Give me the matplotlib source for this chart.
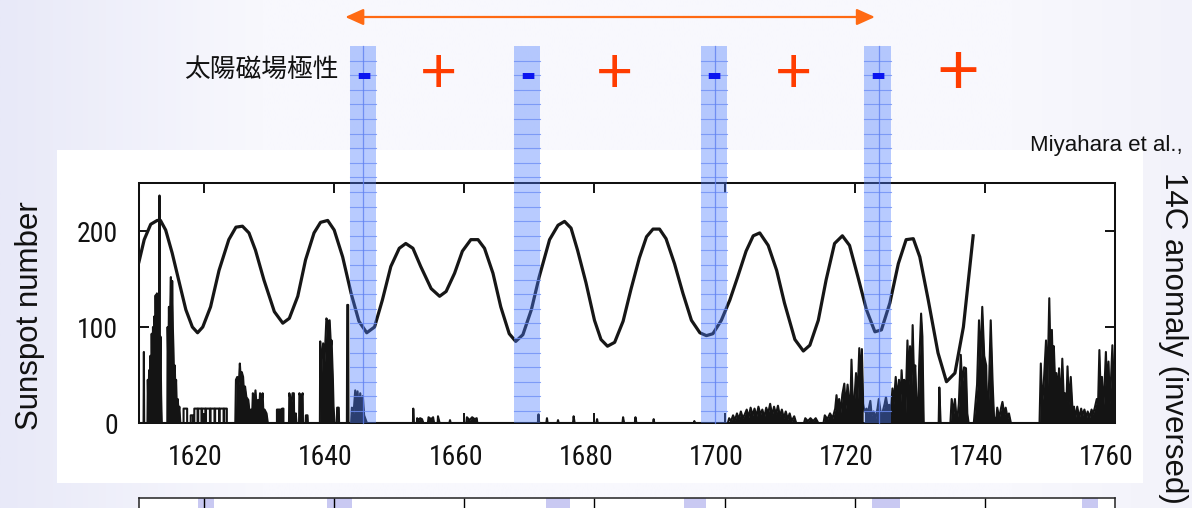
import numpy as np
import matplotlib
matplotlib.use("Agg")
import matplotlib.pyplot as plt
import matplotlib.transforms as mtransforms
from matplotlib.patches import Rectangle

# ---------------- data ----------------
c14_year = [1610.0, 1610.8, 1611.8, 1612.8, 1613.3, 1614.1, 1615.1, 1616.2, 1617.2, 1618.2,
            1619.0, 1619.8, 1621.0, 1622.3, 1623.8, 1624.9, 1625.9, 1626.9, 1627.9, 1629.2,
            1630.8, 1632.1, 1633.1, 1634.4, 1635.6, 1636.9, 1637.9, 1639.0, 1640.0, 1641.3,
            1642.6, 1643.8, 1645.0, 1646.2, 1647.4, 1648.7, 1650.0, 1651.0, 1652.1, 1653.3,
            1654.9, 1656.2, 1657.2, 1658.5, 1659.7, 1661.0, 1662.1, 1663.1, 1664.4, 1665.6,
            1666.9, 1667.9, 1669.0, 1670.3, 1671.5, 1673.1, 1674.4, 1675.4, 1676.4, 1677.4,
            1678.7, 1680.0, 1681.0, 1682.0, 1683.1, 1684.4, 1685.6, 1686.9, 1688.0, 1689.0,
            1690.0, 1691.0, 1692.3, 1693.6, 1694.9, 1696.2, 1697.2, 1698.2, 1699.5, 1700.8,
            1702.0, 1703.3, 1704.4, 1705.4, 1706.7, 1708.0, 1709.2, 1710.8, 1712.1, 1713.1,
            1714.4, 1715.6, 1716.9, 1718.1, 1719.2, 1720.5, 1721.8, 1723.1, 1724.1, 1725.4,
            1726.7, 1727.9, 1729.0, 1730.0, 1731.3, 1732.8, 1734.1, 1735.4, 1736.7, 1738.2]
c14_value = [168, 191, 207, 211, 211, 201, 177, 146, 118, 100,
             94, 100, 121, 159, 191, 204, 205, 198, 180, 149,
             116, 104, 109, 132, 170, 198, 209, 211, 201, 173,
             135, 106, 94, 100, 128, 163, 182, 187, 182, 163,
             140, 132, 137, 156, 179, 191, 191, 182, 156, 121,
             93, 85, 92, 118, 152, 191, 206, 210, 203, 180,
             146, 107, 87, 80, 84, 106, 139, 172, 194, 202,
             202, 192, 166, 135, 107, 94, 91, 93, 107, 128,
             152, 179, 195, 198, 185, 159, 125, 87, 75, 81,
             107, 149, 187, 195, 185, 152, 118, 95, 97, 125,
             166, 191, 192, 173, 128, 73, 43, 52, 100, 195]

# sunspot number, (year, value) vertices
sunspot_1610s = [(1610.0, 0), (1610.7, 0), (1610.75, 74), (1610.8, 0), (1611.3, 0), (1611.35, 45),
                 (1611.45, 10), (1611.55, 55), (1611.65, 20), (1611.75, 70), (1611.85, 40), (1611.95, 93),
                 (1612.05, 50), (1612.15, 100), (1612.25, 60), (1612.35, 111), (1612.45, 70), (1612.55, 133),
                 (1612.65, 80), (1612.75, 135), (1612.85, 70), (1612.95, 110), (1613.05, 60), (1613.15, 237),
                 (1613.22, 50), (1613.3, 90), (1613.4, 30), (1613.5, 0), (1614.35, 0), (1614.4, 100),
                 (1614.5, 60), (1614.6, 121), (1614.7, 70), (1614.8, 120), (1614.9, 152), (1615.0, 80),
                 (1615.1, 148), (1615.2, 100), (1615.3, 76), (1615.4, 40), (1615.5, 60), (1615.6, 30),
                 (1615.7, 45), (1615.8, 20), (1615.95, 25), (1616.1, 10), (1616.2, 17), (1616.35, 0)]
sunspot_comb = [(1616.85, 0), (1616.85, 15), (1617.4, 15), (1617.4, 0), (1617.95, 0), (1617.95, 8),
                (1618.3, 8), (1618.3, 0), (1618.5, 0), (1618.5, 15), (1619.0, 15), (1619.0, 0),
                (1619.1, 0), (1619.1, 15), (1619.6, 15), (1619.6, 0), (1619.7, 0), (1619.7, 15),
                (1620.2, 15), (1620.2, 0), (1620.3, 0), (1620.3, 15), (1620.9, 15), (1620.9, 0),
                (1621.0, 0), (1621.0, 15), (1621.6, 15), (1621.6, 0), (1621.7, 0), (1621.7, 15),
                (1622.3, 15), (1622.3, 0), (1622.4, 0), (1622.4, 15), (1623.0, 15), (1623.0, 0),
                (1623.1, 0), (1623.1, 15), (1623.5, 15), (1623.5, 0)]
sunspot_1620s = [(1624.8, 0), (1624.9, 45),
                 (1625.1, 48), (1625.3, 35), (1625.5, 62), (1625.65, 45), (1625.8, 53), (1626.0, 48),
                 (1626.15, 30), (1626.3, 38), (1626.5, 27), (1626.8, 24), (1627.0, 10), (1627.2, 14),
                 (1627.35, 0), (1627.5, 31), (1627.7, 20), (1627.9, 34), (1628.1, 15), (1628.3, 24),
                 (1628.45, 10), (1628.6, 31), (1628.8, 20), (1629.0, 31), (1629.15, 5), (1629.3, 14),
                 (1629.6, 10), (1629.8, 0)]
sunspot_1630s = [(1631.2, 0), (1631.2, 14), (1631.8, 14), (1631.8, 0), (1632.0, 0), (1632.0, 15),
                 (1632.2, 15), (1632.2, 0), (1633.05, 0), (1633.1, 31), (1633.4, 20), (1633.6, 31),
                 (1633.8, 31), (1633.85, 0), (1634.05, 0), (1634.1, 10), (1634.2, 0), (1634.6, 0),
                 (1634.65, 31), (1634.9, 25), (1635.15, 31), (1635.2, 0), (1635.6, 0), (1635.65, 8),
                 (1635.9, 8), (1635.95, 0), (1637.8, 0), (1637.85, 85), (1638.0, 40), (1638.1, 66),
                 (1638.3, 83), (1638.5, 62), (1638.8, 109), (1639.0, 106), (1639.3, 107), (1639.5, 80),
                 (1639.6, 86), (1639.8, 45), (1639.9, 17), (1640.05, 0)]
sunspot_1640s = [(1640.4, 0), (1640.45, 16), (1640.7, 16), (1640.75, 0), (1641.95, 0), (1642.0, 123),
                 (1642.15, 123), (1642.2, 0), (1642.6, 0), (1642.72, 16), (1642.98, 10), (1643.23, 34),
                 (1643.38, 15), (1643.59, 33), (1643.8, 10), (1644.0, 31), (1644.2, 15), (1644.4, 28),
                 (1644.6, 8), (1644.82, 4), (1645.03, 0)]
sunspot_maunder = [(1652.1, 0), (1652.15, 15), (1652.25, 0), (1652.7, 0), (1652.75, 5), (1653.0, 3),
                   (1653.2, 5), (1653.5, 4), (1653.7, 0), (1654.4, 0), (1654.5, 6), (1654.9, 4),
                   (1655.2, 6), (1655.35, 0), (1655.9, 0), (1655.95, 7), (1656.2, 0), (1657.7, 0),
                   (1657.8, 3), (1657.9, 0), (1660.3, 0), (1660.4, 6), (1660.8, 3), (1661.2, 6),
                   (1661.6, 4), (1661.9, 5), (1662.0, 0), (1671.3, 0), (1671.4, 9), (1671.5, 0),
                   (1672.6, 0), (1672.7, 5), (1672.8, 0), (1674.3, 0), (1674.4, 3), (1674.5, 0),
                   (1676.7, 0), (1676.8, 7), (1676.95, 0), (1680.3, 0), (1680.4, 4), (1680.5, 0),
                   (1684.3, 0), (1684.4, 6), (1684.55, 0), (1686.2, 0), (1686.3, 6), (1686.45, 0),
                   (1689.0, 0), (1689.1, 4), (1689.2, 0), (1695.3, 0), (1695.35, 2), (1695.4, 0),
                   (1700.5, 0)]
sunspot_1700s = [(1700.7, 5), (1701.0, 2), (1701.3, 8), (1701.6, 3), (1701.9, 10), (1702.2, 4),
                 (1702.5, 12), (1702.8, 5), (1703.1, 9), (1703.4, 14), (1703.7, 6), (1704.0, 16),
                 (1704.3, 8), (1704.6, 15), (1704.9, 7), (1705.2, 17), (1705.5, 9), (1705.8, 14),
                 (1706.1, 6), (1706.4, 16), (1706.7, 10), (1707.0, 20), (1707.3, 8), (1707.6, 17),
                 (1707.9, 9), (1708.2, 18), (1708.5, 7), (1708.8, 14), (1709.1, 5), (1709.4, 12),
                 (1709.7, 4), (1710.0, 10), (1710.3, 2), (1710.7, 7), (1711.0, 0), (1712.2, 0),
                 (1712.4, 5), (1712.8, 2), (1713.2, 5), (1713.6, 2), (1714.0, 5), (1714.4, 0),
                 (1715.2, 0), (1715.4, 8), (1715.8, 4), (1716.2, 10), (1716.6, 5), (1717.0, 15),
                 (1717.2, 29), (1717.4, 12), (1717.6, 25), (1717.8, 10), (1718.1, 30), (1718.4, 41),
                 (1718.6, 15), (1718.9, 40), (1719.1, 25), (1719.3, 10), (1719.5, 66), (1719.7, 20),
                 (1719.8, 3), (1720.0, 30), (1720.2, 52), (1720.4, 20), (1720.7, 78), (1720.9, 40),
                 (1721.1, 77), (1721.3, 20)]
sunspot_1720s = [(1721.5, 12), (1721.8, 15), (1722.0, 10), (1722.4, 23), (1722.6, 8), (1722.9, 12),
                 (1723.2, 5), (1723.5, 15), (1723.7, 25), (1724.0, 10), (1724.3, 12), (1724.6, 20),
                 (1724.8, 27), (1725.1, 14), (1725.3, 19), (1725.5, 8), (1725.8, 36), (1726.0, 20),
                 (1726.3, 48), (1726.5, 25), (1726.8, 45), (1727.0, 15), (1727.2, 55), (1727.4, 30),
                 (1727.6, 45), (1727.8, 10), (1728.1, 86), (1728.3, 40), (1728.5, 80), (1728.7, 30),
                 (1728.9, 102), (1729.1, 50), (1729.3, 60), (1729.5, 20), (1729.7, 0), (1729.9, 60),
                 (1730.2, 114), (1730.4, 90), (1730.6, 0), (1732.9, 0), (1733.0, 37), (1733.2, 0),
                 (1734.7, 0), (1734.9, 25), (1735.2, 10), (1735.4, 25), (1735.7, 0), (1736.0, 20),
                 (1736.3, 71), (1736.5, 40), (1736.8, 58), (1737.1, 57), (1737.3, 10), (1737.5, 0),
                 (1738.3, 0), (1738.5, 16), (1738.8, 40), (1739.1, 107), (1739.3, 60), (1739.6, 121),
                 (1739.9, 70), (1740.2, 60), (1740.4, 0), (1740.6, 30), (1740.9, 107), (1741.2, 40),
                 (1741.4, 7), (1741.7, 0), (1741.9, 16), (1742.2, 5), (1742.5, 16), (1742.7, 22),
                 (1743.0, 8), (1743.2, 16), (1743.5, 5), (1743.7, 10), (1744.0, 0)]
sunspot_1740s = [(1748.4, 0), (1748.6, 62), (1748.8, 20), (1749.0, 35), (1749.2, 60), (1749.4, 86),
                 (1749.6, 30), (1749.9, 130), (1750.1, 60), (1750.3, 97), (1750.5, 40), (1750.6, 80),
                 (1750.9, 20), (1751.0, 52), (1751.3, 30), (1751.4, 57), (1751.7, 20), (1751.9, 67),
                 (1752.1, 30), (1752.3, 31), (1752.5, 10), (1752.7, 59), (1752.9, 20), (1753.2, 48),
                 (1753.5, 10), (1753.7, 17), (1753.9, 5), (1754.2, 17), (1754.5, 5), (1754.8, 15),
                 (1755.0, 8), (1755.3, 14), (1755.6, 5), (1755.8, 12), (1756.1, 6), (1756.4, 14),
                 (1756.6, 9), (1756.9, 16), (1757.2, 25), (1757.4, 20), (1757.6, 76), (1757.8, 30),
                 (1758.0, 48), (1758.2, 15), (1758.4, 40), (1758.6, 74), (1758.8, 30), (1759.0, 64),
                 (1759.2, 20), (1759.4, 48), (1759.6, 81), (1759.8, 40), (1760.0, 60)]

x_ticks = [1620, 1640, 1660, 1680, 1700, 1720, 1740, 1760]
y_ticks = [0, 100, 200]

# negative-polarity intervals (years) and the polarity sign positions
neg_bands = [(1642.5, 1646.5), (1667.7, 1671.7), (1696.3, 1700.3), (1721.5, 1725.5)]
band_midlines = [1644.5, 1698.5, 1723.8]
plus_years = [1656.0, 1683.1, 1710.6, 1735.8]
lower_bands = [(1619.1, 1621.5), (1638.9, 1642.8), (1672.6, 1676.3),
               (1693.7, 1697.2), (1722.6, 1726.9), (1754.9, 1757.4)]
arrow_years = (1641.7, 1723.1)

# ---------------- figure ----------------
plt.rcParams['font.family'] = ['Liberation Sans', 'DejaVu Sans']
W, H = 1192, 508
fig = plt.figure(figsize=(W / 100, H / 100), dpi=100)

bg = fig.add_axes([0, 0, 1, 1], zorder=-10)
bg.set_xlim(0, W)
bg.set_ylim(H, 0)
bg.axis('off')
xs = np.linspace(0, 1, 600)
left = np.clip(1 - xs / 0.22, 0, 1)
right = np.clip((xs - 0.85) / 0.15, 0, 1)
r = 248 - 16 * left - 6 * right
g = 248 - 15 * left - 6 * right
b = 253 - 5 * left - 3 * right
img = (np.dstack([r, g, b]) / 255.0)
bg.imshow(img, extent=[0, W, H, 0], aspect='auto', interpolation='bilinear')
bg.add_patch(Rectangle((57, 150), 1143 - 57, 483 - 150, facecolor='white', edgecolor='none'))

ax_l, ax_r, ax_t, ax_b = 139, 1115, 183, 423
ax = fig.add_axes([ax_l / W, 1 - ax_b / H, (ax_r - ax_l) / W, (ax_b - ax_t) / H], zorder=2)
ax.set_facecolor('white')
ax.set_xlim(1610, 1760)
ax.set_ylim(0, 250)

def afrac(py):
    return (ax_b - py) / (ax_b - ax_t)

ax.plot(c14_year, c14_value, color='#161616', lw=2.3, zorder=3, solid_joinstyle='round')

filled_segments = [sunspot_1610s, sunspot_1620s, sunspot_1630s, sunspot_1640s,
                   sunspot_maunder, sunspot_1700s, sunspot_1720s, sunspot_1740s]
sun = sunspot_1610s + sunspot_comb + sunspot_1620s + sunspot_1630s + sunspot_1640s + \
    sunspot_maunder + sunspot_1700s + sunspot_1720s + sunspot_1740s
sy, sv = zip(*sun)
ax.plot(sy, sv, color='#141414', lw=1.5, zorder=3)
for seg in filled_segments:
    fy_, fv_ = zip(*seg)
    ax.fill_between(fy_, 0, fv_, color='#141414', lw=0, zorder=3)

lw_sp = 1.45
for s in ax.spines.values():
    s.set_linewidth(lw_sp)
    s.set_color('#111111')
ax.set_xticks(x_ticks)
ax.set_yticks(y_ticks)
ax.tick_params(direction='in', length=7.2, width=1.4, top=True, right=True,
               labelright=False, labeltop=False, pad=15, labelsize=20,
               labelfontfamily='Roboto Condensed', colors='#111111')
shift = mtransforms.ScaledTranslation(-8.5 / 100, 0, fig.dpi_scale_trans)
for lab in ax.get_xticklabels():
    lab.set_transform(lab.get_transform() + shift)

blend = mtransforms.blended_transform_factory(ax.transData, ax.transAxes)
band_top = afrac(46)
for (x0, x1) in neg_bands:
    ax.axvspan(x0, x1, ymin=0, ymax=band_top, facecolor='#4f7fff', alpha=0.40,
               edgecolor='none', clip_on=False, zorder=5)
    k = 1
    while 46 + 14.6 * k < ax_b:
        yf = afrac(46 + 14.6 * k)
        ax.plot([x0, x1], [yf, yf], transform=blend, color='#6f8ff5', lw=0.8,
                alpha=0.8, clip_on=False, zorder=5)
        k += 1
for xm in band_midlines:
    ax.plot([xm, xm], [0, band_top], transform=blend, color='#5f80f0', lw=0.9,
            alpha=0.8, clip_on=False, zorder=5)

# polarity signs
ax.text(1616.9, afrac(70), '太陽磁場極性', transform=blend, ha='left', va='center',
        fontsize=18.5, family=['Noto Sans CJK JP', 'DejaVu Sans'], color='#111111', zorder=6)
for (x0, x1) in neg_bands:
    ax.text((x0 + x1) / 2, afrac(76), '-', transform=blend, ha='center', va='center',
            fontsize=33, fontweight='bold', color='#0a14f0', zorder=7, clip_on=False)
for i, xp in enumerate(plus_years):
    ax.text(xp, afrac(76), '+', transform=blend, ha='center', va='center',
            fontsize=53 if i == 3 else 46, color='#ff3c00', zorder=7, clip_on=False)

ax.annotate('', xy=(arrow_years[1], afrac(17)), xytext=(arrow_years[0], afrac(17)),
            xycoords=blend, textcoords=blend, annotation_clip=False,
            arrowprops=dict(arrowstyle='<|-|>,head_length=1.0,head_width=0.45',
                            mutation_scale=11, color='#ff6a13', lw=1.6,
                            shrinkA=0, shrinkB=0))

# lower (partially visible) panel
ax2 = fig.add_axes([ax_l / W, 1 - (498 + 240) / H, (ax_r - ax_l) / W, 240 / H], zorder=1)
ax2.set_facecolor('white')
ax2.set_xlim(1610, 1760)
ax2.set_ylim(0, 250)
for s in ax2.spines.values():
    s.set_linewidth(1.1)
    s.set_color('#222222')
ax2.set_xticks(x_ticks[:-1])
ax2.set_yticks([])
ax2.tick_params(axis='x', direction='in', length=7, width=1.0, top=True, bottom=False,
                labelbottom=False, labeltop=False)
for (x0, x1) in lower_bands:
    ax2.axvspan(x0, x1, facecolor='#b8b8ee', alpha=0.75, edgecolor='none', zorder=0.5)

# labels
bg.text(30, 316, 'Sunspot number', rotation=90, ha='center', va='center',
        fontsize=22.5, color='#111111')
bg.text(1173, 172, '14C anomaly (inversed)', rotation=-90, ha='center', va='top',
        fontsize=22.5, color='#111111')
bg.text(1030, 145, 'Miyahara et al.,', ha='left', va='center', fontsize=16,
        color='#111111')

fig.savefig('out.png', dpi=100)
